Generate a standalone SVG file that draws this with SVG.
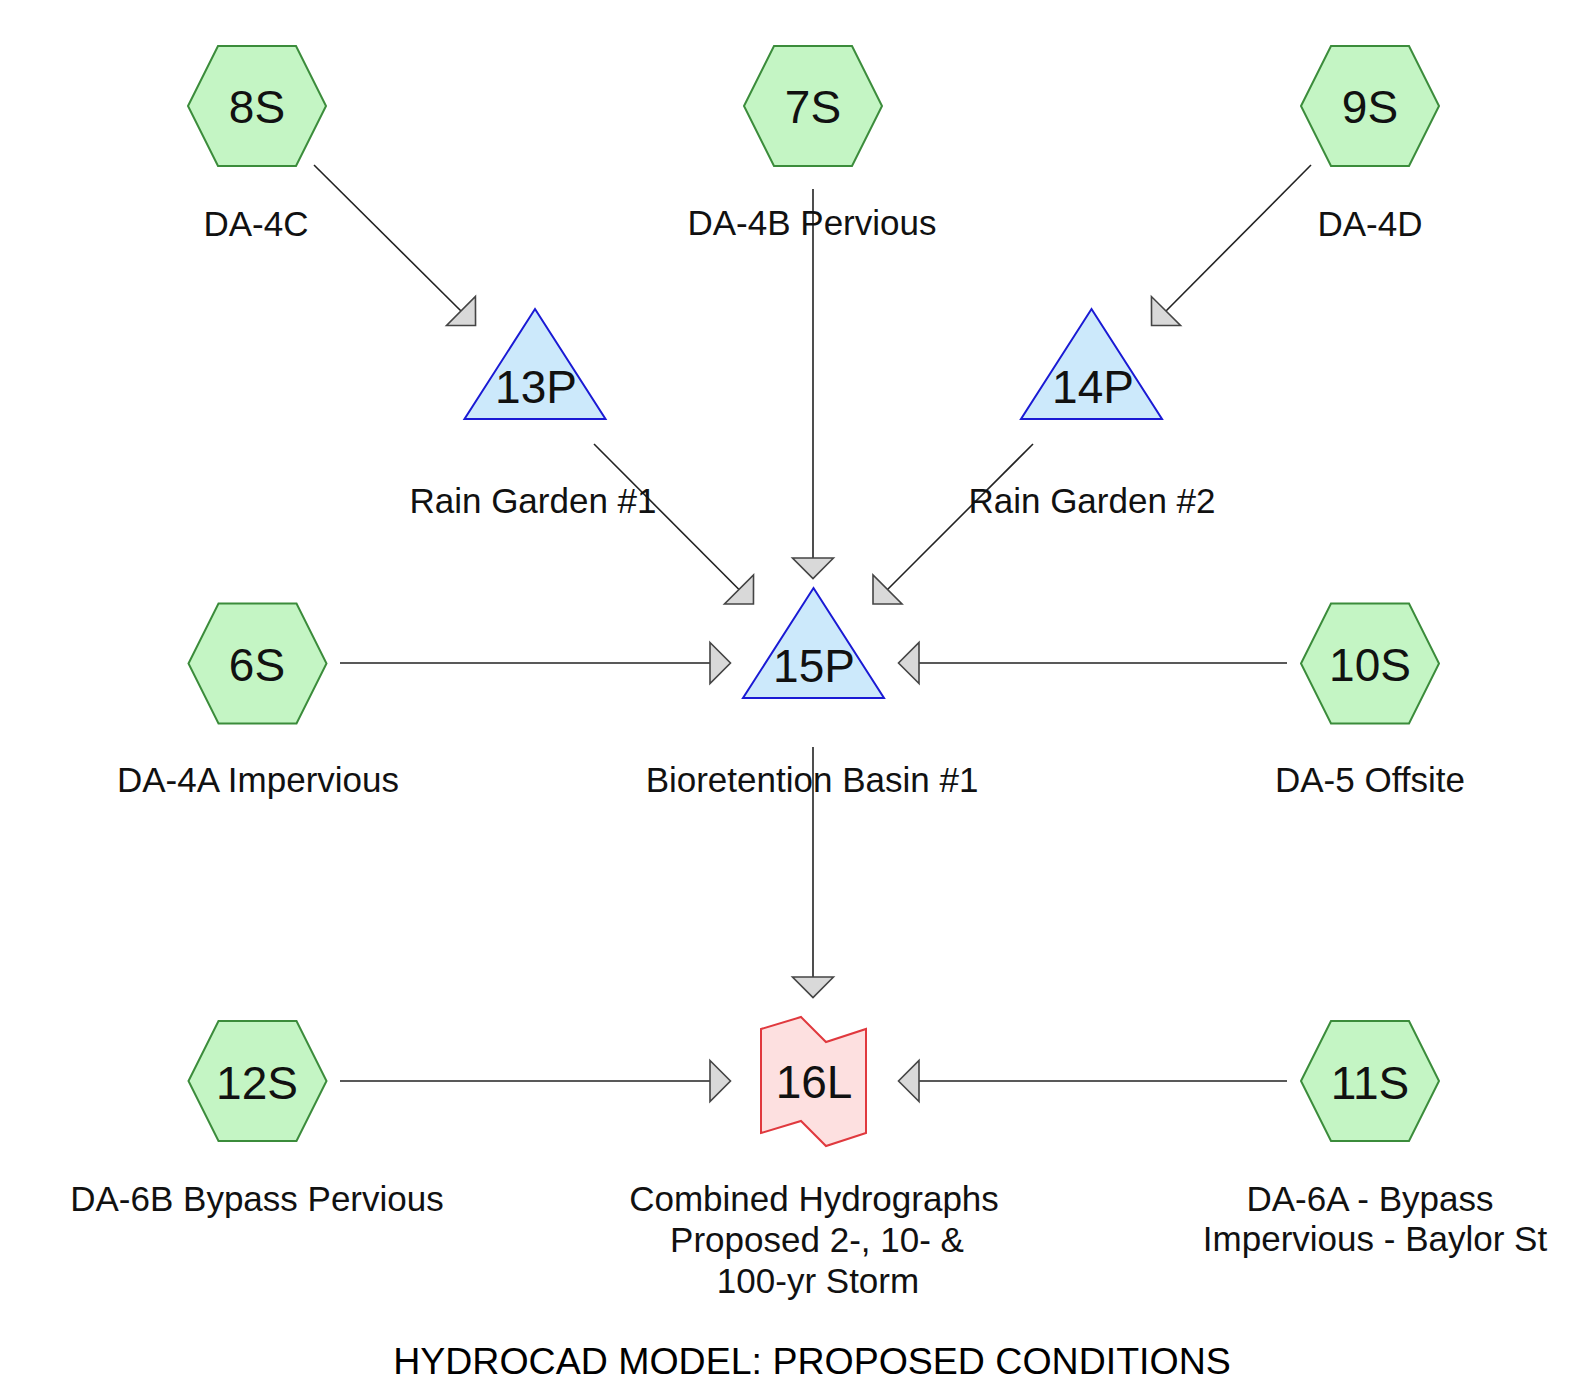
<svg xmlns="http://www.w3.org/2000/svg" xmlns:xlink="http://www.w3.org/1999/xlink" width="1591" height="1383" viewBox="0 0 1591 1383">
<style>
  .hex { fill: #c4f5c4; stroke: #3b8c3b; stroke-width: 2; }
  .pond { fill: #cce9fb; stroke: #1a1ad4; stroke-width: 2; }
  .link { fill: #fde0e0; stroke: #e0393e; stroke-width: 2; }
  .id { font-family: "Liberation Sans", Arial, sans-serif; font-size: 46px; fill: #111; text-anchor: middle; }
  .lbl { font-family: "Liberation Sans", Arial, sans-serif; font-size: 35px; fill: #111; text-anchor: middle; }
  .title { font-family: "Liberation Sans", Arial, sans-serif; font-size: 37.5px; fill: #000; text-anchor: middle; }
  .conn { stroke: #222; stroke-width: 1.6; fill: none; }
  .head { fill: #d9d9d9; stroke: #444; stroke-width: 1.6; }
</style>
<defs>
  <polygon id="hexShape" class="hex" points="-69,0 -39,-60 39,-60 69,0 39,60 -39,60"/>
  <polygon id="triShape" class="pond" points="0,-55 70.5,55 -70.5,55"/>
  <marker id="arrow" markerUnits="userSpaceOnUse" markerWidth="24" markerHeight="46" viewBox="-2 -23 24 46" refX="0" refY="0" orient="auto" overflow="visible">
    <path class="head" d="M0,-20.5 L20.5,0 L0,20.5 Z"/>
  </marker>
</defs>
<rect width="1591" height="1383" fill="#ffffff"/>

<g id="connectors">
  <line class="conn" x1="314" y1="165" x2="461" y2="311" marker-end="url(#arrow)"/>
  <line class="conn" x1="1311" y1="165" x2="1166" y2="311" marker-end="url(#arrow)"/>
  <line class="conn" x1="813" y1="189" x2="813" y2="558" marker-end="url(#arrow)"/>
  <line class="conn" x1="594" y1="444" x2="739" y2="589.5" marker-end="url(#arrow)"/>
  <line class="conn" x1="1033" y1="444" x2="887.5" y2="589.5" marker-end="url(#arrow)"/>
  <line class="conn" x1="340" y1="663" x2="710" y2="663" marker-end="url(#arrow)"/>
  <line class="conn" x1="1287" y1="663" x2="919" y2="663" marker-end="url(#arrow)"/>
  <line class="conn" x1="813" y1="747" x2="813" y2="977" marker-end="url(#arrow)"/>
  <line class="conn" x1="340" y1="1081" x2="710" y2="1081" marker-end="url(#arrow)"/>
  <line class="conn" x1="1287" y1="1081" x2="919" y2="1081" marker-end="url(#arrow)"/>
</g>

<g id="node-8S">
  <use xlink:href="#hexShape" x="257" y="106"/>
  <text class="id" x="257" y="123">8S</text>
  <text class="lbl" x="256" y="236">DA-4C</text>
</g>
<g id="node-7S">
  <use xlink:href="#hexShape" x="813" y="106"/>
  <text class="id" x="813" y="123">7S</text>
  <text class="lbl" x="812" y="235">DA-4B Pervious</text>
</g>
<g id="node-9S">
  <use xlink:href="#hexShape" x="1370" y="106"/>
  <text class="id" x="1370" y="123">9S</text>
  <text class="lbl" x="1370" y="236">DA-4D</text>
</g>
<g id="node-13P">
  <use xlink:href="#triShape" x="535" y="364"/>
  <text class="id" x="536" y="403">13P</text>
  <text class="lbl" x="533" y="513">Rain Garden #1</text>
</g>
<g id="node-14P">
  <use xlink:href="#triShape" x="1091.5" y="364"/>
  <text class="id" x="1093" y="403">14P</text>
  <text class="lbl" x="1092" y="513">Rain Garden #2</text>
</g>
<g id="node-15P">
  <use xlink:href="#triShape" x="813.5" y="643"/>
  <text class="id" x="814" y="682">15P</text>
  <text class="lbl" x="812" y="792">Bioretention Basin #1</text>
</g>
<g id="node-6S">
  <use xlink:href="#hexShape" x="257.5" y="663.5"/>
  <text class="id" x="257" y="681">6S</text>
  <text class="lbl" x="258" y="792">DA-4A Impervious</text>
</g>
<g id="node-10S">
  <use xlink:href="#hexShape" x="1370" y="663.5"/>
  <text class="id" x="1370" y="681">10S</text>
  <text class="lbl" x="1370" y="792">DA-5 Offsite</text>
</g>
<g id="node-16L">
  <polygon class="link" points="761,1029 801,1017 826,1042 866,1029 866,1133 826,1146 801,1121 761,1133"/>
  <text class="id" x="814" y="1098">16L</text>
  <text class="lbl" x="814" y="1211">Combined Hydrographs</text>
  <text class="lbl" x="817" y="1252">Proposed 2-, 10- &amp;</text>
  <text class="lbl" x="818" y="1293">100-yr Storm</text>
</g>
<g id="node-12S">
  <use xlink:href="#hexShape" x="257.5" y="1081"/>
  <text class="id" x="257" y="1099">12S</text>
  <text class="lbl" x="257" y="1211">DA-6B Bypass Pervious</text>
</g>
<g id="node-11S">
  <use xlink:href="#hexShape" x="1370" y="1081"/>
  <text class="id" x="1370" y="1099">11S</text>
  <text class="lbl" x="1370" y="1211">DA-6A - Bypass</text>
  <text class="lbl" x="1375" y="1251">Impervious - Baylor St</text>
</g>

<text class="title" x="812" y="1374">HYDROCAD MODEL: PROPOSED CONDITIONS</text>
</svg>
